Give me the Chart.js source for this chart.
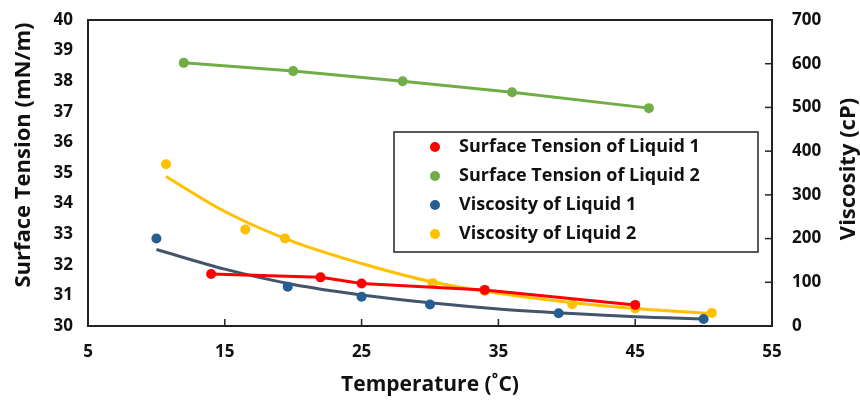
<!DOCTYPE html>
<html>
<head>
<meta charset="utf-8">
<script src="https://cdn.jsdelivr.net/npm/chart.js@4/dist/chart.umd.min.js"></script>
<style>
  html, body { margin: 0; padding: 0; background: #fff; }
  #wrap { width: 860px; height: 402px; position: relative; }
</style>
</head>
<body>
<div id="wrap"><canvas id="chart" width="860" height="402"></canvas></div>
<script>
  // temperature (C) vs surface tension (mN/m, left axis) and viscosity (cP, right axis)
  const tempSt1 = [14, 22, 25, 34, 45];
  const surfTension1 = [31.70, 31.59, 31.39, 31.18, 30.69];

  const tempSt2 = [12, 20, 28, 36, 46];
  const surfTension2 = [38.60, 38.33, 38.00, 37.64, 37.12];

  const tempVisc1 = [10, 19.6, 25, 30, 39.4, 50];
  const viscosity1 = [200, 90, 67, 49, 29, 16];

  const tempVisc2 = [10.7, 16.5, 19.4, 30.2, 34, 40.4, 45, 50.6];
  const viscosity2 = [370, 221, 200, 98, 80, 50, 40, 30];

  // trendlines
  const trendVisc1X = [10, 15, 20, 25, 30, 35, 40, 45, 50];
  const trendVisc1Y = [175, 130, 95, 71, 53, 39, 29, 21, 16];
  const trendVisc2X = [10.7, 15, 20, 25, 30, 35, 40, 45, 50.7];
  const trendVisc2Y = [342, 262, 193, 143, 102, 75, 55, 40, 28];

  const seriesLabels = [
    'Surface Tension of Liquid 1',
    'Surface Tension of Liquid 2',
    'Viscosity of Liquid 1',
    'Viscosity of Liquid 2',
  ];
  const xTicks = [5, 15, 25, 35, 45, 55];

  const COLORS = {
    red: '#ff0000',
    green: '#70ad47',
    navyPoint: '#255e91',
    navyLine: '#44546a',
    yellow: '#ffc000',
  };
  const FONT = '"Open Sans", "Liberation Sans", sans-serif';

  function toPoints(xs, ys) {
    return xs.map((x, i) => ({ x, y: ys[i] }));
  }

  function noEdgePadding(scale) {
    scale.paddingTop = 0;
    scale.paddingBottom = 0;
    scale.width = 88;
  }

  // legend box drawn by hand so it gets the framed look
  const boxLegend = {
    id: 'boxLegend',
    afterDraw(chart) {
      const ctx = chart.ctx;
      const left = 394, top = 132, width = 364, height = 120;
      ctx.save();
      ctx.fillStyle = '#fff';
      ctx.fillRect(left, top, width, height);
      ctx.strokeStyle = '#222';
      ctx.lineWidth = 1.5;
      ctx.strokeRect(left, top, width, height);
      ctx.font = `bold 18px ${FONT}`;
      ctx.textBaseline = 'middle';
      ctx.textAlign = 'left';
      const items = chart.data.datasets.filter((d) => !d.isTrend);
      items.forEach((ds, i) => {
        const y = top + 15 + i * 29;
        ctx.fillStyle = ds.legendColor;
        ctx.beginPath();
        ctx.arc(435, y, 5, 0, Math.PI * 2);
        ctx.fill();
        ctx.fillStyle = '#111';
        ctx.fillText(ds.label, 459, y);
      });
      ctx.restore();
    },
  };

  // inward tick marks, frame and axis titles
  const frameAndTitles = {
    id: 'frameAndTitles',
    beforeDatasetsDraw(chart) {
      const ctx = chart.ctx;
      const a = chart.chartArea;
      const xs = chart.scales.x;
      const yr = chart.scales.y2;
      ctx.save();
      ctx.strokeStyle = '#222';
      ctx.lineWidth = 2;
      ctx.strokeRect(a.left, a.top, a.right - a.left, a.bottom - a.top);
      ctx.lineWidth = 1.5;
      xs.ticks.forEach((t) => {
        const px = xs.getPixelForValue(t.value);
        if (px <= a.left + 1 || px >= a.right - 1) return;
        ctx.beginPath();
        ctx.moveTo(px, a.bottom);
        ctx.lineTo(px, a.bottom - 7);
        ctx.stroke();
      });
      yr.ticks.forEach((t) => {
        const py = yr.getPixelForValue(t.value);
        if (py <= a.top + 1 || py >= a.bottom - 1) return;
        ctx.beginPath();
        ctx.moveTo(a.right, py);
        ctx.lineTo(a.right - 7, py);
        ctx.stroke();
      });

      ctx.fillStyle = '#111';
      ctx.font = `bold 21px ${FONT}`;
      ctx.textAlign = 'center';
      ctx.textBaseline = 'middle';
      ctx.fillText('Temperature (\u02daC)', 430, 385);

      ctx.font = `bold 22px ${FONT}`;
      ctx.save();
      ctx.translate(24, 155);
      ctx.rotate(-Math.PI / 2);
      ctx.fillText('Surface Tension (mN/m)', 0, 0);
      ctx.restore();

      ctx.save();
      ctx.translate(849, 169);
      ctx.rotate(-Math.PI / 2);
      ctx.fillText('Viscosity (cP)', 0, 0);
      ctx.restore();
      ctx.restore();
    },
  };

  const tickFont = { family: FONT, size: 17, weight: 'bold' };

  new Chart(document.getElementById('chart'), {
    type: 'scatter',
    data: {
      datasets: [
        {
          label: seriesLabels[0],
          data: toPoints(tempSt1, surfTension1),
          yAxisID: 'y',
          showLine: true,
          borderColor: COLORS.red,
          backgroundColor: COLORS.red,
          legendColor: COLORS.red,
          borderWidth: 3,
          pointRadius: 5,
          pointBorderWidth: 0,
          order: 1,
        },
        {
          label: seriesLabels[1],
          data: toPoints(tempSt2, surfTension2),
          yAxisID: 'y',
          showLine: true,
          borderColor: COLORS.green,
          backgroundColor: COLORS.green,
          legendColor: COLORS.green,
          borderWidth: 3,
          pointRadius: 5,
          pointBorderWidth: 0,
          order: 1,
        },
        {
          label: seriesLabels[2],
          data: toPoints(tempVisc1, viscosity1),
          yAxisID: 'y2',
          showLine: false,
          backgroundColor: COLORS.navyPoint,
          borderColor: COLORS.navyPoint,
          legendColor: COLORS.navyPoint,
          pointRadius: 5,
          pointBorderWidth: 0,
          order: 0,
        },
        {
          label: seriesLabels[3],
          data: toPoints(tempVisc2, viscosity2),
          yAxisID: 'y2',
          showLine: false,
          backgroundColor: COLORS.yellow,
          borderColor: COLORS.yellow,
          legendColor: COLORS.yellow,
          pointRadius: 5,
          pointBorderWidth: 0,
          order: 2,
        },
        {
          label: 'trend visc 1',
          isTrend: true,
          data: toPoints(trendVisc1X, trendVisc1Y),
          yAxisID: 'y2',
          showLine: true,
          borderColor: COLORS.navyLine,
          borderWidth: 3,
          pointRadius: 0,
          cubicInterpolationMode: 'monotone',
          order: 1,
        },
        {
          label: 'trend visc 2',
          isTrend: true,
          data: toPoints(trendVisc2X, trendVisc2Y),
          yAxisID: 'y2',
          showLine: true,
          borderColor: COLORS.yellow,
          borderWidth: 3,
          pointRadius: 0,
          cubicInterpolationMode: 'monotone',
          order: 1,
        },
      ],
    },
    options: {
      responsive: false,
      animation: false,
      events: [],
      layout: { padding: { left: 0, right: 0, top: 20, bottom: 0 } },
      plugins: {
        legend: { display: false },
        tooltip: { enabled: false },
      },
      scales: {
        x: {
          type: 'linear',
          min: 5,
          max: 55,
          afterBuildTicks: (scale) => {
            scale.ticks = xTicks.map((v) => ({ value: v }));
          },
          afterFit: (scale) => {
            scale.height = 76;
            scale.paddingLeft = 0;
            scale.paddingRight = 0;
          },
          grid: { display: false, drawTicks: false },
          border: { display: false },
          ticks: { color: '#111', font: tickFont, padding: 16, maxRotation: 0 },
        },
        y: {
          position: 'left',
          min: 30,
          max: 40,
          afterFit: noEdgePadding,
          grid: { display: false, drawTicks: false },
          border: { display: false },
          ticks: { stepSize: 1, color: '#111', font: tickFont, padding: 15 },
        },
        y2: {
          position: 'right',
          min: 0,
          max: 700,
          afterFit: noEdgePadding,
          grid: { display: false, drawTicks: false },
          border: { display: false },
          ticks: { stepSize: 100, color: '#111', font: tickFont, padding: 20 },
        },
      },
    },
    plugins: [frameAndTitles, boxLegend],
  });
</script>
</body>
</html>
